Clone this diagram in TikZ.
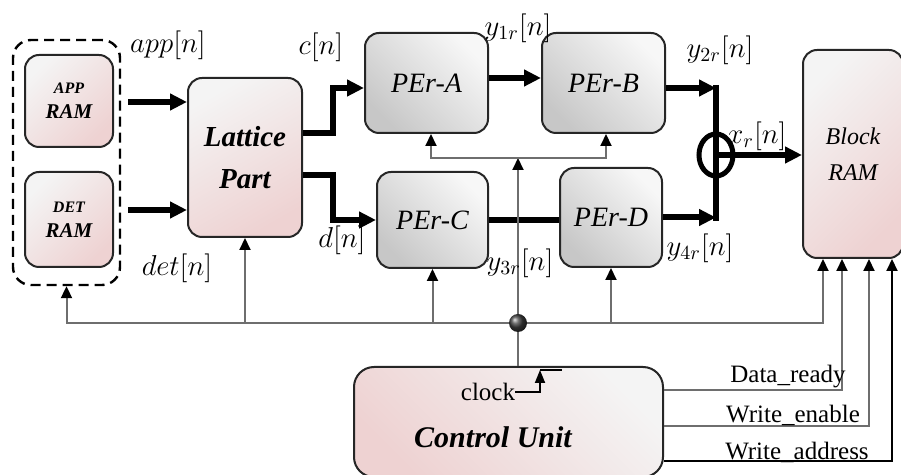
\documentclass[tikz,border=0pt]{standalone}
\usepackage{fontspec}
\setmainfont{Liberation Serif}
\usetikzlibrary{arrows.meta,shapes.geometric,calc}
\definecolor{pinkc}{RGB}{238,210,210}
\definecolor{greyc}{RGB}{244,244,244}
\definecolor{sigc}{RGB}{110,110,110}
\begin{document}
\begin{tikzpicture}
    [   x=0.5pt, y=-0.5pt,
        >={Triangle[length=6pt,width=5.5pt,color=black]},
        blk/.style={draw=black!85,line width=1pt,rounded corners=7pt,align=center,inner sep=0pt},
        pinkblk/.style={blk,top color=greyc,bottom color=pinkc,shading angle=#1},
        pinkblk/.default=45,
        peblk/.style={blk,top color=black!3,bottom color=black!22,shading angle=-45,
            font=\fontsize{14}{16}\selectfont\itshape},
        thk/.style={line width=3pt},
        thkarr/.style={thk,-{Triangle[length=8.5pt,width=8pt]}},
        sig/.style={draw=sigc,line width=1pt},
        lbl/.style={font=\fontsize{12.5}{14}\selectfont,inner sep=0pt},
        mlbl/.style={font=\fontsize{14.5}{16}\selectfont,inner sep=0pt},
    ]
    \useasboundingbox (0,0) rectangle (901,475);
    % memories
    \node[blk,draw=black,dash pattern=on 5pt off 3pt,line width=1.2pt,rounded corners=9pt,
        minimum width=53.5pt,minimum height=122.5pt] (ramgrp) at (66.5,162.5) {};
    \node[pinkblk,minimum width=44pt,minimum height=46pt,
        font=\fontsize{10.5}{12.5}\selectfont\bfseries\itshape] (apprm) at (69,101)
        {{\fontsize{8}{9}\selectfont APP}\\RAM};
    \node[pinkblk,minimum width=44pt,minimum height=47.5pt,
        font=\fontsize{10.5}{12.5}\selectfont\bfseries\itshape] (detrm) at (69,219.5)
        {{\fontsize{8}{9}\selectfont DET}\\RAM};
    \node[pinkblk=30,minimum width=57pt,minimum height=79.5pt,
        font=\fontsize{14.5}{21}\selectfont\bfseries\itshape] (latt) at (245,157.5) {Lattice\\Part};
    % processing elements
    \node[peblk,minimum width=61.5pt,minimum height=50pt] (pera) at (426.5,83) {PEr-A};
    \node[peblk,minimum width=61.5pt,minimum height=50pt] (perb) at (603.5,83) {PEr-B};
    \node[peblk,minimum width=55.5pt,minimum height=48pt] (perc) at (432.5,220) {PEr-C};
    \node[peblk,minimum width=51pt,minimum height=49.5pt] (perd) at (611,217.5) {PEr-D};
    \node[pinkblk,minimum width=50pt,minimum height=104pt,
        font=\fontsize{12}{18}\selectfont\itshape] (bram) at (853,154) {Block\\RAM};
    \node[pinkblk=-45,rounded corners=10pt,minimum width=154.5pt,minimum height=55pt] (cu) at (508.5,422) {};
    \node[font=\fontsize{15}{18}\selectfont\bfseries\itshape,inner sep=0pt] (cutxt) at (493,437) {Control Unit};
    \node[draw,ellipse,line width=2.5pt,minimum width=17pt,minimum height=21pt,inner sep=0pt] (sum) at (716,155) {};

    \coordinate (appin) at ($(ramgrp.east |- apprm.east)+(7,1)$);
    \coordinate (detin) at ($(ramgrp.east |- detrm.east)+(7,-9.5)$);
    \coordinate (jt) at (716,88);
    \coordinate (jb) at (716,218);
    \coordinate (dot) at (518,323);
    \coordinate (clk) at (518,158);
    \coordinate (clkin) at (540,370);

    % data path
    \draw[thkarr] (appin) -- (appin -| latt.west);
    \draw[thkarr] (detin) -- (detin -| latt.west);
    \draw[thkarr] ([yshift=12.25pt]latt.east) -- ++(30,0) |- ([yshift=-2.5pt]pera.west);
    \draw[thkarr] ([yshift=-8.75pt]latt.east) -- ++(30,0) |- (perc.west);
    \draw[thkarr] ([yshift=2.5pt]pera.east) -- ([yshift=2.5pt]perb.west);
    \draw[thk] (perc.east) -- (perc.east -| perd.west);
    \draw[thkarr] ([yshift=-2.5pt]perb.east) -- (jt);
    \draw[thkarr] (perd.east) -- (perd.east -| jb);
    \draw[thk] ([yshift=1.5pt]jt) -- ([yshift=-1.5pt]jb);
    \draw[thkarr] (sum.center) -- (sum.center -| bram.west);

    % control signals
    \draw[sig,->] (dot) -| (ramgrp.south);
    \draw[sig,->] (dot) -| ([xshift=-15pt]bram.south);
    \draw[sig,->] (latt.south |- dot) -- (latt.south);
    \draw[sig,->] (perc.south |- dot) -- (perc.south);
    \draw[sig,->] (perd.south |- dot) -- (perd.south);
    \draw[sig,->] (cu.north -| dot) -- (clk);
    \draw[sig,->] (clk) -| ([xshift=2.25pt]pera.south);
    \draw[sig,->] (clk) -| ([xshift=1.25pt]perb.south);
    \shade[ball color=black!75] (dot) circle[radius=4.5pt];
    \draw[sig,->] (cu.east |- 0,390) -| ([xshift=-5.5pt]bram.south);
    \draw[sig,->] (cu.east |- 0,426) -| ([xshift=8pt]bram.south);
    \draw[sig,draw=black,->] (cu.east |- 0,461) -| ([xshift=19.5pt]bram.south);

    % clock input
    \node[lbl] (clklbl) at (488,392) {clock};
    \draw[line width=0.9pt,-{Triangle[length=6.5pt,width=5pt]}] (clklbl.east) -| (clkin);
    \draw[line width=1.3pt] (clkin) -- ++(22,0);

    % labels
    \node[mlbl] (lapp) at (168,45) {$app[n]$};
    \node[mlbl] (ldet) at (177,268) {$det[n]$};
    \node[mlbl] (lc) at (321,47) {$c[n]$};
    \node[mlbl] (ld) at (342,240) {$d[n]$};
    \node[mlbl] (ly1) at (518,28) {$y_{1r}[n]$};
    \node[mlbl] (ly2) at (720,50) {$y_{2r}[n]$};
    \node[mlbl] (ly3) at (520,263) {$y_{3r}[n]$};
    \node[mlbl] (ly4) at (700,248) {$y_{4r}[n]$};
    \node[mlbl] (lx) at (757,136) {$x_{r}[n]$};
    \node[lbl,anchor=base] (ldr) at (788,383) {Data\_ready};
    \node[lbl,anchor=base] (lwe) at (793,423) {Write\_enable};
    \node[lbl,anchor=base] (lwa) at (797,460) {Write\_address};
\end{tikzpicture}
\end{document}
